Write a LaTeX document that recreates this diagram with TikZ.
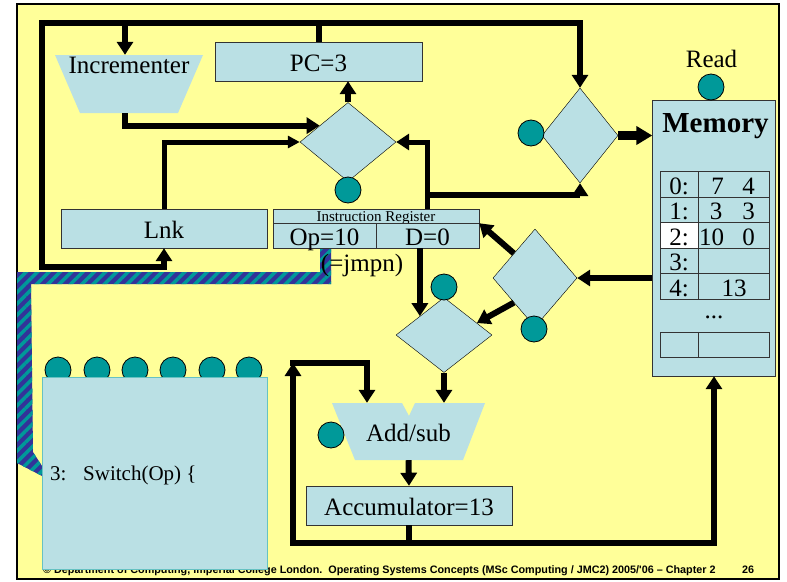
\documentclass[tikz,border=0pt]{standalone}
\usepackage{fontspec}
\setmainfont{Liberation Serif}
\newfontfamily\footfont{Liberation Sans}
\usetikzlibrary{shapes.geometric,arrows.meta,patterns.meta}

\definecolor{slide}{HTML}{FFFF99}
\definecolor{unit}{HTML}{BAE0E4}
\definecolor{signal}{HTML}{009999}
\definecolor{hatch}{HTML}{333399}

\tikzset{
  reg/.style={draw=black!80, fill=unit, inner sep=0pt, text height=19pt,
    text depth=0pt, font=\fontsize{25}{25}\selectfont},
  cell/.style={draw=black!80, inner sep=0pt, minimum height=25.6pt,
    text height=20pt, text depth=0pt, font=\fontsize{25}{25}\selectfont},
  mux/.style={diamond, draw, fill=unit, inner sep=0pt},
  ctl/.style={circle, draw, line width=0.8pt, fill=signal, minimum size=26pt,
    inner sep=0pt},
  lbl/.style={anchor=base, inner sep=0pt, font=\fontsize{25}{25}\selectfont},
  wire/.style={line width=6pt, -{Triangle[length=13pt,width=16pt]}},
}

\begin{document}
\begin{tikzpicture}[x=1pt, y=-1pt]
\useasboundingbox (0,0) rectangle (787,581);
\draw[fill=slide, line width=1.2pt] (17,4) rectangle (779,579);

% op field wired to the switch
\fill[hatch, postaction={pattern={Lines[angle=45,distance=8pt,line width=3.5pt]},
    pattern color=signal}]
  (17,272) -- (320,272) -- (320,248) -- (331,248) -- (331,284) -- (31,284)
  -- (33,452) -- (42,466) -- (42,476) -- (17,463) -- cycle;

% registers
\node[reg, minimum width=207pt, minimum height=39pt] (pc) at (318.5,61.5) {PC=3};
\node[reg, minimum width=206pt, minimum height=39pt] (lnk) at (164,228.5) {Lnk};
\node[reg, minimum width=206pt, minimum height=14pt, text height=10pt,
  font=\fontsize{15}{15}\selectfont] (ir) at (376,216) {Instruction Register};
\node[reg, minimum width=103pt, minimum height=25pt] (op) at (324.5,235.5) {Op=10};
\node[reg, minimum width=103pt, minimum height=25pt] (d) at (427.5,235.5) {D=0};
\node[lbl] (jmpn) at (362,271) {(=jmpn)};
\node[reg, minimum width=206pt, minimum height=39pt] (acc) at (409,505.5) {Accumulator=13};

% incrementer and adder
\fill[unit] (55,55) -- (203,55) -- (178,113) -- (80,113) -- cycle;
\node[inner sep=0pt, minimum width=148pt, minimum height=58pt, text height=0pt,
  text depth=22pt, font=\fontsize{25}{25}\selectfont] (inc) at (129,84) {Incrementer};
\fill[unit] (332,403) -- (402,403) -- (409,416) -- (415,403) -- (485,403)
  -- (463,460) -- (355,460) -- cycle;
\node[inner sep=0pt, minimum width=153pt, minimum height=57pt, text height=19pt,
  text depth=0pt, font=\fontsize{25}{25}\selectfont] (alu) at (408.5,431.5) {Add/sub};

% memory
\node[reg, minimum width=123pt, minimum height=276pt] (mem) at (714,238) {};
\node[lbl, font=\bfseries\fontsize{29}{29}\selectfont] (memname) at (715.5,132) {Memory};
\node[lbl] (readlbl) at (711.5,67) {Read};
\foreach \r/\bg in {0/unit,1/unit,2/white,3/unit,4/unit} {
  \node[cell, fill=\bg, minimum width=38pt] (adr\r) at (679,184+25.6*\r) {\r:};
  \node[cell, fill=unit, minimum width=71pt] (val\r) at (733.5,184+25.6*\r) {};
}
\foreach \r/\lo/\hi/\xlo in {0/7/4/717.5, 1/3/3/716, 2/10/0/711.5} {
  \node[lbl] (lo\r) at (\xlo,194+25.6*\r) {\lo};
  \node[lbl] (hi\r) at (748.5,194+25.6*\r) {\hi};
}
\node[lbl] (lo4) at (734,296.4) {13};
\node[lbl] (more) at (714,318) {...};
\node[cell, fill=unit, minimum width=38pt] (adr5) at (679,344.5) {};
\node[cell, fill=unit, minimum width=71pt] (val5) at (733.5,344.5) {};

% multiplexers
\node[mux, minimum width=96pt, minimum height=79pt] (pcmux) at (348,142) {};
\node[mux, minimum width=76pt, minimum height=95pt] (addrmux) at (580,135.5) {};
\node[mux, minimum width=84pt, minimum height=98pt] (datamux) at (535,278) {};
\node[mux, minimum width=96pt, minimum height=75pt] (alumux) at (444,335) {};

% control inputs
\node[ctl] (pcsel) at (348,190) {};
\node[ctl] (addrsel) at (531,133) {};
\node[ctl] (read) at (711,87) {};
\node[ctl] (datasel) at (534,329) {};
\node[ctl] (alusel) at (444,287) {};
\node[ctl] (addsel) at (331,435) {};

% buses
\coordinate (bus-nw) at (42,23);
\coordinate (bus-ne) at (580,23);
\coordinate (bus-sw) at (42,267);
\coordinate (dtap) at (427.5,195);
\coordinate (fb-sw) at (293,543);
\coordinate (fb-nw) at (293,363);

\draw[wire] (pc.north) |- (bus-ne) -- (addrmux.north);
\draw[wire] (pc.north) |- (bus-nw) -- (bus-sw) -| (lnk.south);
\draw[wire] ([xshift=-4pt]inc.north |- bus-nw) -- ([xshift=-4pt]inc.north);
\draw[wire] ([xshift=-4pt]inc.south) |- (pcmux.150);
\draw[wire, line width=5pt, -{Triangle[length=12pt,width=12pt]}] (lnk.north) |- (pcmux.west);
\draw[wire] (pcmux.north) -- (pcmux.north |- pc.south);
\draw[wire, line width=5pt] (d.north |- ir.north) |- (pcmux.east);
\draw[wire] (dtap) -| (addrmux.south);
\draw[wire, line width=9pt, -{Triangle[length=16pt,width=18pt]}] (addrmux.east) -- (mem.west |- addrmux.east);
\draw[wire] (alumux.north west |- d.south) -- (alumux.north west);
\draw[wire] (mem.west |- datamux.east) -- (datamux.east);
\draw[wire] (datamux.north west) -- (ir.south east);
\draw[wire] (datamux.south west) -- (alumux.20);
\draw[wire] (alumux.south) -- ([xshift=35.5pt]alu.north);
\draw[wire] (alu.south) -- (acc.north);
\draw[wire] (acc.south) |- (fb-sw) -- (fb-nw);
\draw[wire] (fb-sw) -| (mem.south);
\draw[wire] ([xshift=-3pt]fb-nw) -| ([xshift=-41.5pt]alu.north);

% footer and switch
\node[anchor=base west, inner sep=0pt, font=\footfont\bfseries\fontsize{10.8}{11}\selectfont]
  (foot) at (43,573) {\textcopyright{} Department of Computing, Imperial College London.\ \ Operating Systems Concepts (MSc Computing / JMC2) 2005/'06 \textendash{} Chapter 2};
\node[anchor=base, inner sep=0pt, font=\footfont\bfseries\fontsize{10.8}{11}\selectfont]
  (page) at (748,573) {26};
\foreach \x [count=\k] in {58,97,135,173,212,249}
  \node[ctl] (cond\k) at (\x,370) {};
\node[draw=signal!60, fill=unit, inner sep=0pt, minimum width=225pt,
  minimum height=192pt] (switch) at (154.5,473) {};
\node[lbl, anchor=base west, font=\fontsize{21}{21}\selectfont] (caseno) at (50,480) {3:};
\node[lbl, anchor=base west, font=\fontsize{21}{21}\selectfont] (casetext) at (83,480) {Switch(Op) \{};
\end{tikzpicture}
\end{document}
